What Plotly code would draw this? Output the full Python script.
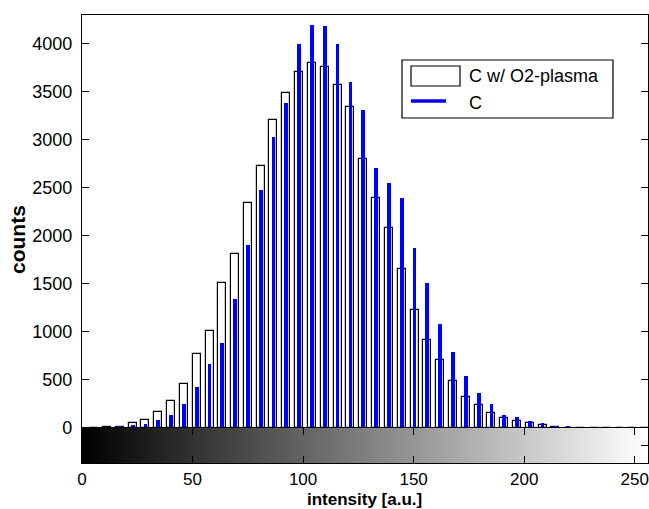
import plotly.graph_objects as go

# bin centers (intensity, a.u.)
intensity = [5.5, 11.3, 17.1, 22.9, 28.7, 34.5, 40.3, 46.1, 51.9, 57.7,
             63.4, 69.2, 75.0, 80.8, 86.6, 92.4, 98.2, 104.0, 109.8, 115.6,
             121.4, 127.2, 133.0, 138.8, 144.6, 150.4, 156.2, 162.0, 167.8, 173.6,
             179.4, 185.2, 190.9, 196.7, 202.5, 208.3, 214.1, 219.9, 225.7, 231.5,
             237.3, 243.1, 248.9, 254.7]

counts_o2 = [0, 12, 15, 52, 79, 162, 284, 457, 769, 1004,
             1503, 1806, 2344, 2725, 3203, 3484, 3705, 3799, 3757, 3567,
             3341, 2795, 2390, 2078, 1652, 1229, 917, 703, 484, 322,
             242, 160, 104, 69, 55, 27, 12, 5, 3, 2,
             1, 1, 0, 0]

counts_c = [0, 10, 12, 31, 43, 83, 135, 245, 424, 665,
            883, 1343, 1904, 2472, 3030, 3382, 3992, 4193, 4182, 3992,
            3601, 3303, 2701, 2552, 2390, 1876, 1506, 1082, 786, 543,
            364, 247, 138, 110, 69, 52, 24, 12, 10, 10,
            5, 8, 3, 8]

legend_names = ["C w/ O2-plasma", "C"]
x_ticks = [0, 50, 100, 150, 200, 250]
y_ticks = [0, 500, 1000, 1500, 2000, 2500, 3000, 3500, 4000]
gray_levels = list(range(256))

W, H = 649, 509
L, R, T, B = 82, 1, 15, 46
PW, PH = W - L - R, H - T - B
GRAD_PX = 35


def px(x):
    return (x - L) / PW


def py(y):
    return (H - B - y) / PH


FONT = "Liberation Sans, Arial, sans-serif"

fig = go.Figure()

fig.add_trace(go.Bar(
    x=intensity, y=counts_o2, width=3.6,
    marker=dict(color="white", line=dict(color="black", width=1.2)),
    name=legend_names[0], showlegend=False, xaxis="x", yaxis="y"))
fig.add_trace(go.Bar(
    x=intensity, y=counts_c, width=1.7,
    marker=dict(color="#0000ff", line=dict(width=0)),
    name=legend_names[1], showlegend=False, xaxis="x", yaxis="y"))

fig.add_trace(go.Heatmap(
    z=[gray_levels], x=list(range(257)), y=[0, 1],
    colorscale=[[0, "black"], [1, "white"]], showscale=False,
    hoverinfo="skip", xaxis="x2", yaxis="y2"))

gdom = GRAD_PX / PH

fig.update_layout(
    width=W, height=H,
    margin=dict(l=L, r=R, t=T, b=B, pad=0),
    paper_bgcolor="white", plot_bgcolor="white",
    barmode="overlay", bargap=0,
    font=dict(family=FONT, size=18, color="black"),
    xaxis=dict(range=[0, 256], domain=[0, 1], anchor="y",
               showticklabels=False, ticks="", showgrid=False, zeroline=False,
               showline=True, linecolor="black", linewidth=1.3, mirror=True),
    yaxis=dict(range=[0, 4294], domain=[gdom, 1], anchor="x",
               tickvals=y_ticks, ticks="inside", ticklen=7, tickwidth=1,
               tickcolor="black", showgrid=False, zeroline=False,
               showline=True, linecolor="black", linewidth=1.3, mirror="ticks",
               tickfont=dict(size=18), ticklabelstandoff=5),
    xaxis2=dict(range=[0, 256], domain=[0, 1], anchor="y2",
                tickvals=x_ticks, ticks="inside", ticklen=7, tickwidth=1,
                tickcolor="black", showgrid=False, zeroline=False,
                showline=True, linecolor="black", linewidth=1.3, mirror="ticks",
                tickfont=dict(size=17), ticklabeloverflow="allow", ticklabelstandoff=0),
    yaxis2=dict(range=[0, 1], domain=[0, gdom], anchor="x2",
                tickvals=[0.5], ticktext=[""], ticks="inside", ticklen=7,
                tickcolor="black", showgrid=False, zeroline=False,
                showline=True, linecolor="black", linewidth=1.3, mirror="ticks"),
    showlegend=False,
)

# axis titles
fig.add_annotation(text="<b>counts</b>", x=px(18), y=py(240), xref="paper", yref="paper",
                   textangle=-90, showarrow=False, xanchor="center", yanchor="middle",
                   font=dict(size=21, family=FONT))
fig.add_annotation(text="<b>intensity [a.u.]</b>", x=px(364), y=py(510), xref="paper", yref="paper",
                   showarrow=False, xanchor="center", yanchor="bottom", borderpad=0,
                   font=dict(size=17, family=FONT))

# legend box (MATLAB style)
fig.add_shape(type="rect", xref="paper", yref="paper",
              x0=px(402), x1=px(613), y0=py(118), y1=py(60),
              line=dict(color="black", width=1.2), fillcolor="white", layer="above")
fig.add_shape(type="rect", xref="paper", yref="paper",
              x0=px(411), x1=px(460), y0=py(86), y1=py(66),
              line=dict(color="black", width=1.2), fillcolor="white", layer="above")
fig.add_shape(type="line", xref="paper", yref="paper",
              x0=px(411), x1=px(446), y0=py(101), y1=py(101),
              line=dict(color="#0000ff", width=3.5), layer="above")
fig.add_annotation(text=legend_names[0], x=px(467), y=py(76), xref="paper", yref="paper",
                   showarrow=False, xanchor="left", yanchor="middle", font=dict(size=18, family=FONT))
fig.add_annotation(text=legend_names[1], x=px(467), y=py(103), xref="paper", yref="paper",
                   showarrow=False, xanchor="left", yanchor="middle", font=dict(size=18, family=FONT))

fig.write_html("out.html", config={"displayModeBar": False},
               post_script="document.body.style.margin='0';document.body.style.overflow='hidden';")
